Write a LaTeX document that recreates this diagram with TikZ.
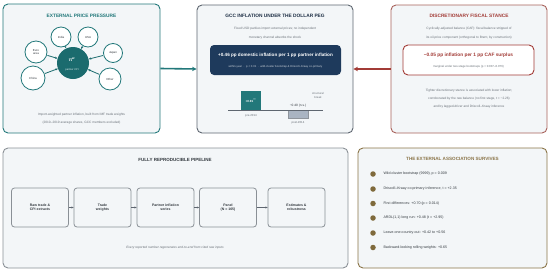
\documentclass[tikz,border=0pt]{standalone}
\usepackage{fontspec}
\setmainfont{Liberation Sans}
\usetikzlibrary{arrows.meta}
\definecolor{tealc}{HTML}{22787A}
\definecolor{tealdk}{HTML}{1B6B6E}
\definecolor{panelbg}{HTML}{F3F6F8}
\definecolor{navy}{HTML}{1E3A5C}
\definecolor{navytxt}{HTML}{1E2F45}
\definecolor{redc}{HTML}{A23B36}
\definecolor{redbd}{HTML}{A8625B}
\definecolor{olive}{HTML}{8A7448}
\definecolor{olivedot}{HTML}{7F6A3C}
\definecolor{graybd}{HTML}{8A9096}
\definecolor{graydk}{HTML}{5E6670}
\definecolor{txtgray}{HTML}{6B7279}
\definecolor{txtdark}{HTML}{33393F}
\definecolor{barg}{HTML}{A9B4C2}
\begin{document}
\begin{tikzpicture}[x=1pt,y=-1pt,
  font=\fontsize{3.3}{4}\selectfont,
  panel/.style={draw, line width=0.9pt, rounded corners=5pt, fill=panelbg, inner sep=0pt},
  ttl/.style={font=\fontsize{4.8}{5.5}\selectfont\bfseries},
  small/.style={font=\fontsize{3.2}{4}\selectfont, text=txtgray},
  sat/.style={circle, draw=tealc, line width=0.8pt, fill=white, inner sep=0pt, align=center, font=\fontsize{2.9}{3.4}\selectfont, text=txtdark},
  satarrow/.style={draw=tealdk, line width=0.8pt, -{Stealth[length=2.5pt,width=2.2pt]}},
  pipebox/.style={draw=graybd, line width=0.8pt, rounded corners=3pt, fill=panelbg, minimum width=57pt, minimum height=39pt, inner sep=0pt, align=center, font=\fontsize{3.5}{4.2}\selectfont\bfseries, text=txtdark},
  pipearrow/.style={draw=graydk, line width=0.6pt, -{Stealth[length=2.2pt,width=2pt]}},
  dot/.style={circle, fill=olivedot, minimum size=5.5pt, inner sep=0pt},
  bul/.style={anchor=west, font=\fontsize{3.6}{4.2}\selectfont, text=txtdark}
]
\useasboundingbox (0,0) rectangle (550,271);

% ---------------- panels
\node[panel, draw=tealc, minimum width=157pt, minimum height=129pt] (pl) at (81.5,68.5) {};
\node[panel, draw=graydk, minimum width=156pt, minimum height=128pt] (pm) at (275,69) {};
\node[panel, draw=redbd, minimum width=156pt, minimum height=128pt] (pr) at (469,69) {};
\node[panel, draw=graybd, minimum width=345pt, minimum height=120pt] (pb) at (175.5,208) {};
\node[panel, draw=olive, minimum width=189pt, minimum height=120pt] (pa) at (452.5,208) {};

% ---------------- left panel
\node[ttl, text=tealc] (tl) at (81.5,16) {EXTERNAL PRICE PRESSURE};
\node[circle, fill=tealdk, minimum size=32pt, inner sep=0pt] (cpi) at (73,63) {};
\node[text=white, font=\fontsize{4.5}{5}\selectfont\bfseries] (pisym) at (72,60) {π\textsuperscript{w}};
\node[text=white!85!tealc, font=\fontsize{2.6}{3}\selectfont] (pilab) at (72,69.5) {partner CPI};
\node[sat, minimum size=20pt] (india) at (61,37) {India};
\node[sat, minimum size=20pt] (usa) at (88,37) {USA};
\node[sat, minimum size=22pt] (euro) at (36,52) {Euro\\area};
\node[sat, minimum size=19pt] (japan) at (113,53) {Japan};
\node[sat, minimum size=24pt] (china) at (33,78) {China};
\node[sat, minimum size=22pt] (other) at (110,79) {Other};
\foreach \s in {india,usa,euro,japan,china,other}
  \draw[satarrow, shorten <=0.5pt] (\s) -- (cpi);
\node[small] (cl1) at (81.5,115) {Import-weighted partner inflation, built from IMF trade weights};
\node[small] (cl2) at (81.5,123) {(2010–2019 average shares, GCC members excluded)};

% ---------------- middle panel
\node[ttl, text=navytxt] (tm) at (275,16) {GCC INFLATION UNDER THE DOLLAR PEG};
\node[small] (sm1) at (275,29) {Fixed USD parities import external prices; no independent};
\node[small] (sm2) at (275,37.5) {monetary channel absorbs the shock};
\node[fill=navy, rounded corners=4pt, minimum width=131pt, minimum height=30pt, inner sep=0pt] (nb) at (275.5,60) {};
\node[text=white, font=\fontsize{4.6}{5}\selectfont\bfseries] (nbt) at (275.5,55) {+0.46 pp domestic inflation per 1 pp partner inflation};
\node[text=white!75!navy, font=\fontsize{2.8}{3.2}\selectfont] (nbs) at (275.5,66.5) {within-year \ · \ p < 0.01 \ · \ wild-cluster bootstrap \& Driscoll–Kraay co-primary};
\fill[tealc] (241,91) rectangle (261,110);
\node[text=white, font=\fontsize{3}{3.5}\selectfont\bfseries] (b1) at (251,100.5) {+0.91\textsuperscript{***}};
\fill[barg] (288,110) rectangle (308,118);
\draw[graydk!70, line width=0.5pt] (288,110) rectangle (308,118);
\draw[graydk, line width=0.6pt] (228,110) -- (323,110);
\node[small, text=txtdark, font=\fontsize{3.2}{4}\selectfont] (b2) at (298,105.5) {−0.40 (n.s.)};
\node[small, font=\fontsize{2.9}{3.5}\selectfont] (pre) at (251,116) {pre-2014};
\node[small, font=\fontsize{2.9}{3.5}\selectfont] (post) at (298,123) {post-2014};
\node[small, align=center, font=\fontsize{2.8}{3.3}\selectfont] (sb) at (318,95.5) {structural\\break};

% ---------------- right panel
\node[ttl, text=redc] (tr) at (469,16) {DISCRETIONARY FISCAL STANCE};
\node[small] (sr1) at (469,29) {Cyclically-adjusted balance (CAF): fiscal balance stripped of};
\node[small] (sr2) at (469,37.5) {its oil-price component (orthogonal to Brent, by construction)};
\node[draw=redc, line width=0.9pt, fill=white, rounded corners=5pt, minimum width=131pt, minimum height=30pt, inner sep=0pt] (rb) at (468.5,60) {};
\node[text=redc, font=\fontsize{4.8}{5.5}\selectfont\bfseries] (rbt) at (468.5,55) {−0.05 pp inflation per 1 pp CAF surplus};
\node[small, font=\fontsize{2.9}{3.5}\selectfont] (rbs) at (468.5,66.5) {marginal under two-stage bootstraps (p = 0.037–0.076)};
\node[small] (rt1) at (469,90.5) {Tighter discretionary stance is associated with lower inflation;};
\node[small] (rt2) at (469,99) {corroborated by the raw balance (no first stage, t = −2.26)};
\node[small] (rt3) at (469,107) {and by lagged-driver and Driscoll–Kraay inference};

% ---------------- panel arrows
\draw[tealc, line width=1.6pt, -{Stealth[length=4.5pt,width=4.5pt]}] (pl.east) -- (pm.west);
\draw[redc, line width=1.6pt, -{Stealth[length=4.5pt,width=4.5pt]}] (pr.west) -- (pm.east);

% ---------------- bottom-left pipeline
\node[ttl, text=txtdark, font=\fontsize{4.5}{5}\selectfont\bfseries] (tb) at (175,160) {FULLY REPRODUCIBLE PIPELINE};
\node[pipebox] (s1) at (40,207.5) {Raw trade \&\\CPI extracts};
\node[pipebox] (s2) at (102.5,207.5) {Trade\\weights};
\node[pipebox] (s3) at (165.5,207.5) {Partner inflation\\series};
\node[pipebox] (s4) at (228,207.5) {Panel\\(N = 165)};
\node[pipebox] (s5) at (296.5,207.5) {Estimates \&\\robustness};
\draw[pipearrow] (s1) -- (s2);
\draw[pipearrow] (s2) -- (s3);
\draw[pipearrow] (s3) -- (s4);
\draw[pipearrow] (s4) -- (s5);
\node[small, font=\fontsize{3.2}{4}\selectfont\itshape] (cb) at (175,248) {Every reported number regenerates end-to-end from cited raw inputs};

% ---------------- bottom-right
\node[ttl, text=olive, font=\fontsize{4.6}{5}\selectfont\bfseries] (ta) at (452.5,159) {THE EXTERNAL ASSOCIATION SURVIVES};
\node[dot] (d1) at (373,174) {};
\node[dot] (d2) at (373,189) {};
\node[dot] (d3) at (373,203.5) {};
\node[dot] (d4) at (373,218) {};
\node[dot] (d5) at (373,233) {};
\node[dot] (d6) at (373,247.5) {};
\node[bul] (l1) at (380,174) {Wild-cluster bootstrap (9999), p = 0.009};
\node[bul] (l2) at (380,189) {Driscoll–Kraay co-primary inference, t = +2.35};
\node[bul] (l3) at (380,203.5) {First differences: +0.70 (p = 0.014)};
\node[bul] (l4) at (380,218) {ARDL(1,1) long run: +0.48 (t = +2.95)};
\node[bul] (l5) at (380,233) {Leave-one-country-out: +0.42 to +0.56};
\node[bul] (l6) at (380,247.5) {Backward-looking rolling weights: +0.65};
\end{tikzpicture}
\end{document}
